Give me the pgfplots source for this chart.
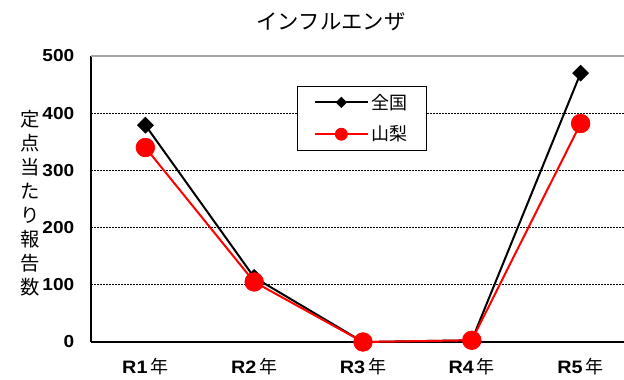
\documentclass[border=0pt]{standalone}
\usepackage{fontspec}
\setmainfont{Liberation Sans}
\newfontfamily\tickfont{Liberation Sans}[FakeStretch=1.1]
\newfontfamily\cjk{Noto Sans CJK JP}
\usepackage{pgfplots}
\pgfplotsset{compat=1.18}
\begin{document}
\begin{tikzpicture}
\useasboundingbox (0,0) rectangle (468pt,284.25pt);
\begin{axis}[
  at={(68.25pt,27.75pt)}, anchor=south west,
  scale only axis, width=408pt, height=214.5pt,
  xmin=-0.5, xmax=4.5, ymin=0, ymax=500,
  clip=false,
  axis lines*=left,
  axis line style={black, line width=1.1pt},
  /pgf/number format/assume math mode=true,
  ytick={0,100,200,300,400,500},
  ytick style={draw=none},
  yticklabel style={font=\tickfont\bfseries\fontsize{13}{14}\selectfont, xshift=-9pt},
  xtick={0,1,2,3,4},
  xticklabels={{\textbf{R1}\,{\cjk 年}},{\textbf{R2}\,{\cjk 年}},{\textbf{R3}\,{\cjk 年}},{\textbf{R4}\,{\cjk 年}},{\textbf{R5}\,{\cjk 年}}},
  xticklabel style={font=\tickfont\fontsize{13.5}{14}\selectfont, yshift=-9pt},
  xtick style={draw=none},
  extra x ticks={0.5,1.5,2.5,3.5},
  extra x tick labels={},
  extra x tick style={tick align=inside, major tick length=3.75pt, tick style={draw=black, line width=0.75pt}, grid=none},
  ymajorgrids,
  grid style={black, line width=0.5pt, dash pattern=on 1.5pt off 0.75pt},
  legend style={at={(axis description cs:0.379,0.895)}, anchor=north west, draw=black, line width=0.75pt,
    font=\cjk\fontsize{13.5}{15}\selectfont, inner xsep=12pt, inner ysep=3.5pt, row sep=7pt, cells={anchor=west}},
  legend image code/.code={\draw[mark repeat=2,mark phase=2, every mark/.append style={scale=0.65}] plot coordinates {(0pt,0pt) (20pt,0pt) (40pt,0pt)};},
]
\draw[gray!70, line width=1.4pt] (rel axis cs:0,1) -- (rel axis cs:1,1);
\addplot[black, line width=1.5pt, mark=square*, mark size=4.2pt, mark options={rotate=45, fill=black, line width=0.5pt}]
  coordinates {(0,379) (1,113) (2,0) (3,3) (4,470)};
\addlegendentry{全国}
\addplot[red, line width=1.5pt, mark=*, mark size=7pt, mark options={fill=red, line width=0.5pt}]
  coordinates {(0,340) (1,105) (2,0) (3,3) (4,382)};
\addlegendentry{山梨}
\end{axis}
\node[font=\cjk\fontsize{16}{18}\selectfont] at (248.25pt,267.75pt) {インフルエンザ};
\node[align=center, font=\cjk\fontsize{14.5}{18}\selectfont, inner sep=0pt] at (22.5pt,132pt) {定\\点\\当\\た\\り\\報\\告\\数};
\end{tikzpicture}
\end{document}
